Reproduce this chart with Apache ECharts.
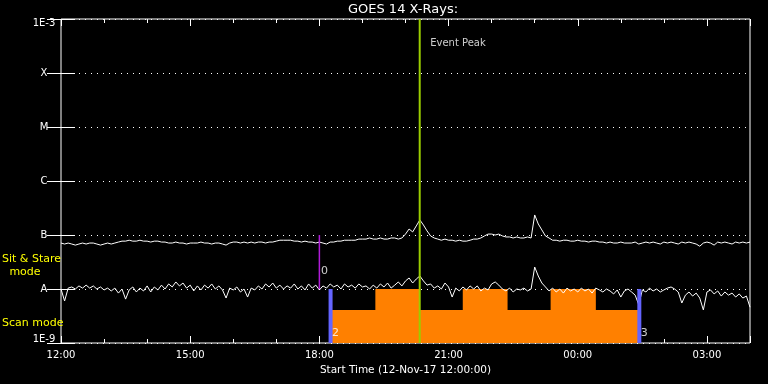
<!DOCTYPE html>
<html><head><meta charset="utf-8">
<script src="https://cdn.jsdelivr.net/npm/echarts@6/dist/echarts.min.js"></script>
<style>html,body{margin:0;padding:0;background:#000}#c{width:768px;height:384px}</style>
</head><body><div id="c"></div>
<script>
// Flux values in units of 1e-9 W/m^2, sampled every 5 minutes from 12:00 (12-Nov-17)
const UNIT = 1e-9;
const STEP_MIN = 5;
const longChannel = [
71,68,71,68,65,68,71,68,71,71,
68,65,68,71,68,71,74,77,77,80,
77,77,80,77,77,74,77,77,74,74,
71,71,74,71,71,68,71,71,71,74,
71,71,68,71,71,68,65,71,74,74,
71,74,71,74,71,74,74,71,74,74,
77,80,80,80,80,77,77,74,77,74,
74,71,74,71,68,74,74,77,77,80,
80,80,80,84,84,84,88,84,84,88,
84,84,88,88,84,88,104,129,114,147,
190,153,119,96,88,84,80,84,80,80,
77,80,77,77,80,84,84,88,96,104,
104,100,104,96,92,92,88,92,88,88,
92,88,235,160,124,96,88,80,80,77,
80,80,77,77,80,77,77,74,77,77,
74,74,71,74,71,71,74,71,71,71,
74,68,71,74,71,74,71,68,74,71,
74,71,68,74,71,74,71,68,62,71,
74,71,65,74,71,74,71,68,74,71,
74,71,74];
const shortChannel = [
10.0,6.0,10.4,10.9,10.0,11.4,10.4,11.8,10.4,11.4,
10.0,10.9,9.6,10.4,9.2,10.4,8.4,10.0,6.5,9.6,
10.9,8.8,10.4,9.2,11.4,8.8,10.9,9.6,11.8,10.0,
12.4,10.9,13.5,11.4,12.9,10.4,11.8,9.2,11.4,9.6,
11.8,10.4,12.4,10.0,11.4,9.6,6.8,10.4,9.6,10.9,
8.8,10.0,7.1,10.4,9.6,11.4,10.0,12.4,10.9,12.9,
10.4,11.8,10.0,11.4,10.4,12.4,10.0,11.4,9.6,12.4,
10.4,11.8,9.6,11.4,10.4,12.4,10.9,11.8,10.0,12.4,
10.9,11.8,10.4,12.4,10.9,11.4,10.0,11.8,10.4,12.4,
10.9,12.9,10.4,11.8,13.5,11.4,14.1,16.0,12.9,15.3,
17.4,14.1,11.8,12.4,10.4,11.4,10.0,12.9,10.9,7.1,
10.4,9.2,10.9,9.6,11.4,10.0,11.4,9.2,10.4,9.6,
12.4,13.5,11.8,10.0,9.2,10.4,8.8,10.0,9.6,10.4,
9.2,10.0,25.5,17.4,12.9,10.9,9.2,10.4,8.8,10.0,
8.4,10.4,9.2,10.0,8.8,10.4,9.2,10.0,8.4,10.4,
9.6,8.8,10.0,9.2,8.1,9.6,7.1,9.2,10.0,8.8,
7.7,5.1,9.6,8.8,10.4,9.2,10.0,8.8,9.6,10.4,
10.9,10.0,8.8,5.5,7.7,8.8,7.4,8.4,6.8,4.1,
8.8,9.6,8.1,9.2,7.4,8.8,7.7,8.4,7.1,8.1,
6.8,7.4,4.6];
const xTickLabels = ['12:00','15:00','18:00','21:00','00:00','03:00'];
const yTickLabels = ['1E-9','A','B','C','M','X','1E-3'];
const xAxisHours = [0, 16];             // 12:00 -> 04:00 next day
const yAxisRange = [1e-9, 1e-3];
// instrument mode (hours since start) : Scan mode = low, Sit & Stare = high
const modeTimes  = [6.26, 7.30, 8.33, 9.33, 10.37, 11.37, 12.42, 13.43];
const modeValues = [4.1, 10, 4.1, 10, 4.1, 10, 4.1, 4.1];
const eventPeakHour = 8.33;
const eventPeakLabelValue = 3.6e-4;
const markerHours = [6.0];               // purple marker "0"
const markerLabels = ['0'];
const markerRange = [1e-8, 1e-7];
const markerLabelValue = 2.15e-8;
const boundaryHours = [6.26, 13.43];     // blue boundaries "2","3"
const boundaryLabels = ['2', '3'];
const boundaryRange = [1e-9, 1e-8];
const boundaryLabelValue = 1.53e-9;

const FONT = 'DejaVu Sans';
const hours = longChannel.map((_, i) => i * STEP_MIN / 60);
const longData = longChannel.map((v, i) => [hours[i], v * UNIT]);
const shortData = shortChannel.map((v, i) => [hours[i], v * UNIT]);
const modeData = modeTimes.map((t, i) => [t, modeValues[i] * UNIT]);

function vline(x, y0, y1, color, width) {
  return { type: 'line', data: [[x, y0], [x, y1]], symbol: 'none', silent: true,
    lineStyle: { color: color, width: width }, z: 3 };
}
const series = [
  { type: 'line', step: 'end', data: modeData, symbol: 'none', silent: true,
    lineStyle: { width: 0 }, areaStyle: { color: '#ff8000', opacity: 1, origin: 'start' }, z: 1 },
  { type: 'line', data: longData, symbol: 'none', lineStyle: { color: '#fff', width: 1 }, z: 2 },
  { type: 'line', data: shortData, symbol: 'none', lineStyle: { color: '#fff', width: 1 }, z: 2 },
];
markerHours.forEach(h => series.push(vline(h, markerRange[0], markerRange[1], '#b01cd8', 1.5)));
boundaryHours.forEach(h => series.push(vline(h, boundaryRange[0], boundaryRange[1], '#6464ff', 4)));
series.push(vline(eventPeakHour, yAxisRange[0], yAxisRange[1], '#9acd00', 2));

const labelItems = [
  { value: [eventPeakHour, eventPeakLabelValue], label: { formatter: 'Event Peak', distance: 10, fontSize: 10 } },
];
markerHours.forEach((h, i) => labelItems.push({ value: [h, markerLabelValue], label: { formatter: markerLabels[i], distance: 1 } }));
boundaryHours.forEach((h, i) => labelItems.push({ value: [h, boundaryLabelValue], label: { formatter: boundaryLabels[i], distance: 1 } }));
series.push({ type: 'scatter', data: labelItems, symbolSize: 1, silent: true, z: 5,
  itemStyle: { color: 'rgba(0,0,0,0)' },
  label: { show: true, position: 'right', color: '#fff', fontFamily: FONT, fontSize: 11 } });

function xAx(pos, interval, len, showLabel) {
  const a = { type: 'value', min: xAxisHours[0], max: xAxisHours[1], interval: interval, position: pos,
    axisLine: { show: false }, splitLine: { show: false },
    axisTick: { inside: true, length: len, lineStyle: { color: '#fff', width: 1 } },
    axisLabel: { show: showLabel, color: '#fff', fontFamily: FONT, fontSize: 10, margin: 7,
      formatter: v => (v % 3 === 0 && xTickLabels[v / 3] !== undefined) ? xTickLabels[v / 3] : '' } };
  if (showLabel) {
    a.name = 'Start Time (12-Nov-17 12:00:00)';
    a.nameLocation = 'middle'; a.nameGap = 19;
    a.nameTextStyle = { color: '#fff', fontFamily: FONT, fontSize: 10.5 };
  }
  return a;
}
const yFmt = v => {
  const k = Math.round(Math.log10(v)) + 9;
  const t = yTickLabels[k];
  if (k === 6) return '{top|' + t + '}';
  if (k === 0) return '{bot|' + t + '}';
  return t;
};
const chart = echarts.init(document.getElementById('c'), null, { renderer: 'canvas' });
chart.setOption({
  backgroundColor: '#000',
  animation: false,
  title: { text: 'GOES 14 X-Rays:', left: 403, top: 3, textAlign: 'center', padding: 0,
    textStyle: { color: '#fff', fontSize: 13, fontWeight: 'normal', fontFamily: FONT } },
  grid: { left: 61, top: 19, right: 18, bottom: 41, show: true, borderColor: '#fff', borderWidth: 1,
    backgroundColor: 'transparent' },
  xAxis: [xAx('bottom', 3, 7, true), xAx('bottom', 1, 4, false), xAx('top', 3, 7, false), xAx('top', 1, 4, false)],
  yAxis: [
    { type: 'log', logBase: 10, min: yAxisRange[0], max: yAxisRange[1], position: 'left',
      axisLine: { show: false },
      axisTick: { inside: true, length: 14, lineStyle: { color: '#fff', width: 1 } },
      axisLabel: { color: '#fff', fontFamily: FONT, fontSize: 10, align: 'center', margin: 17, formatter: yFmt,
        rich: { top: { padding: [8, 0, 0, 0], color: '#fff', fontFamily: FONT, fontSize: 10 },
                bot: { padding: [0, 0, 8, 0], color: '#fff', fontFamily: FONT, fontSize: 10 } } },
      splitLine: { show: true, lineStyle: { color: '#fff', width: 1, type: [1, 5] } } },
    { type: 'log', logBase: 10, min: yAxisRange[0], max: yAxisRange[1], position: 'right',
      axisLine: { show: false }, axisLabel: { show: false }, splitLine: { show: false },
      axisTick: { inside: true, length: 14, lineStyle: { color: '#fff', width: 1 } } }
  ],
  graphic: [
    { type: 'text', x: 2, y: 259, style: { text: 'Sit & Stare', fill: '#ffff00', font: '11px "DejaVu Sans"', align: 'left', verticalAlign: 'middle' } },
    { type: 'text', x: 25, y: 272, style: { text: 'mode', fill: '#ffff00', font: '11px "DejaVu Sans"', align: 'center', verticalAlign: 'middle' } },
    { type: 'text', x: 2, y: 323, style: { text: 'Scan mode', fill: '#ffff00', font: '11px "DejaVu Sans"', align: 'left', verticalAlign: 'middle' } }
  ],
  series: series
});
</script></body></html>
